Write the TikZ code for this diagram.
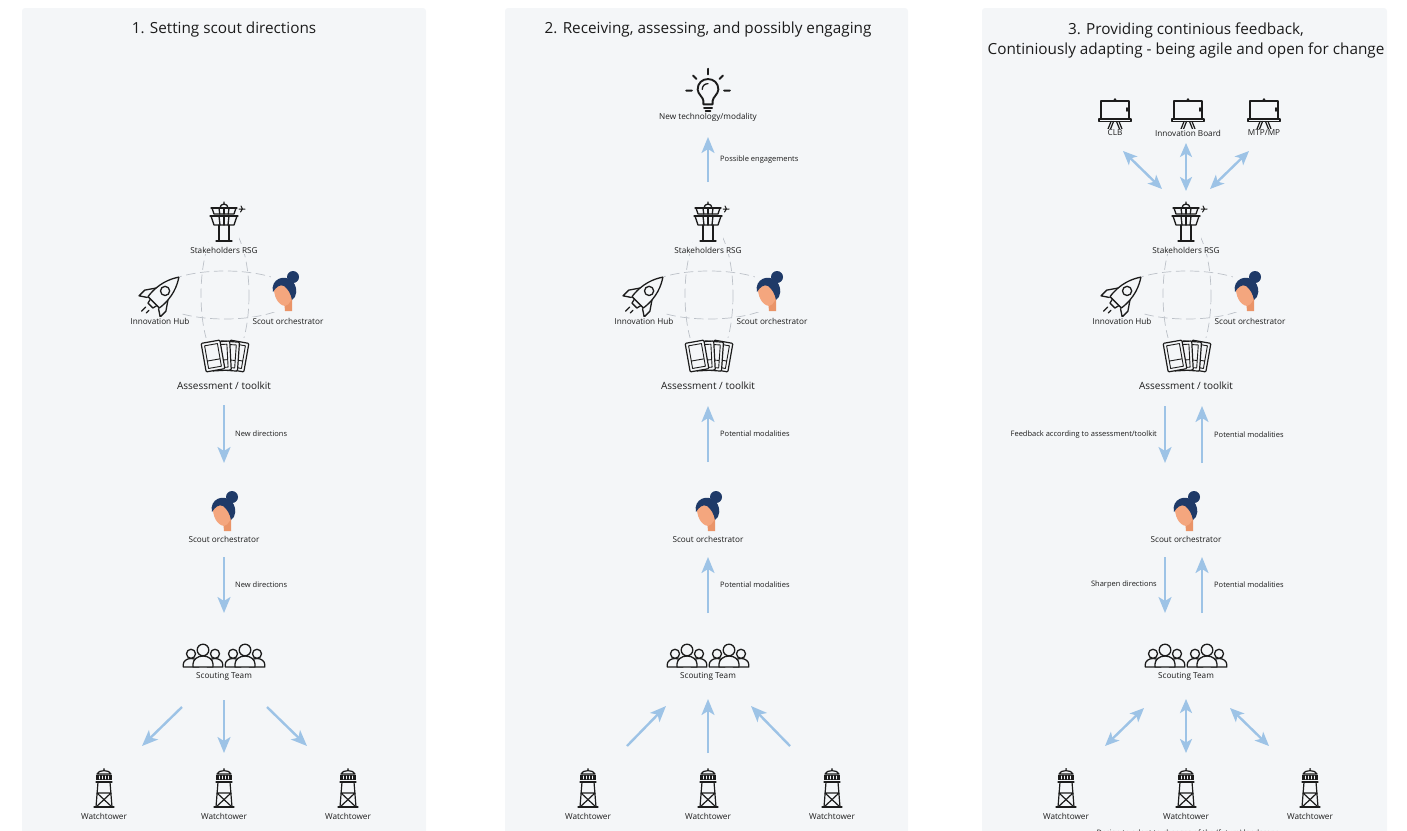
\documentclass[tikz,border=0pt]{standalone}
\usepackage{fontspec}
\setmainfont{Open Sans}
\usetikzlibrary{positioning, arrows.meta}

\definecolor{panelbg}{HTML}{F4F6F8}
\definecolor{flowblue}{HTML}{9DC3E6}
\definecolor{ink}{HTML}{1C1C1C}
\definecolor{hairblue}{HTML}{1F3A68}
\definecolor{skin}{HTML}{F4A67E}
\definecolor{skindark}{HTML}{EA9468}
\definecolor{dashgrey}{HTML}{BCC1C8}

\begin{document}
\begin{tikzpicture}[x=1pt, y=-1pt, line join=round, line cap=round,
    panel/.style={fill=panelbg, rounded corners=3pt},
    title/.style={font=\fontsize{15.3}{20}\selectfont, text=ink, align=center},
    lbl/.style={font=\fontsize{8.2}{10}\selectfont, text=ink, fill=panelbg, inner sep=1pt},
    biglbl/.style={font=\fontsize{10}{12}\selectfont, text=ink, fill=panelbg, inner sep=1pt},
    arrlbl/.style={font=\fontsize{7.5}{9}\selectfont, text=ink, inner sep=0pt},
    icon/.style={fill=panelbg, inner sep=0pt},
    flow/.style={draw=flowblue, line width=2.4pt, line cap=butt,
      -{Stealth[length=16pt, width=13pt, inset=4pt]}},
    both/.style={draw=flowblue, line width=2.4pt, line cap=butt,
      {Stealth[length=14pt, width=12pt, inset=3.5pt]}-{Stealth[length=14pt, width=12pt, inset=3.5pt]}},
    ring/.style={draw=dashgrey, line width=0.7pt, dash pattern=on 9pt off 5pt},
    % icons
    ctower/.pic={
      \begin{scope}[draw=ink, line width=1.3pt]
        \draw (-4,-15) arc[start angle=180, end angle=360, radius=4] (0,-19) -- (0,-21);
        \draw (-13,-15) -- (13,-15);
        \draw (-12,-15) -- (-10,-9) -- (10,-9) -- (12,-15);
        \foreach \u in {-5,0,5} \draw (\u,-15) -- (0.85*\u,-9);
        \draw (-14,-7) -- (14,-7);
        \draw (-13,-7) -- (-10,2) -- (10,2) -- (13,-7);
        \foreach \u in {-5,0,5} \draw (\u,-7) -- (0.8*\u,2);
        \draw (-5,2) -- (-5,18) (5,2) -- (5,18) (-8,18) -- (8,18);
        \draw[line width=1pt] (15,-14) -- (21,-14) (17,-17) -- (18.5,-14) -- (16.5,-11);
      \end{scope}
    },
    rocket/.pic={
      \begin{scope}[rotate=-45, scale=1.15, draw=ink, line width=1.3pt]
        \draw (-7,9) .. controls (-9,-6) and (-4,-16) .. (0,-22)
          .. controls (4,-16) and (9,-6) .. (7,9) -- cycle;
        \draw (0,-5) circle[radius=4];
        \draw (-7.5,-1) -- (-13,7) -- (-13,14) -- (-7,10);
        \draw (7.5,-1) -- (13,7) -- (13,14) -- (7,10);
        \draw (-4,9) -- (-3,13) -- (3,13) -- (4,9);
        \draw (-2,17) -- (-2,22) (2,17) -- (2,20);
      \end{scope}
    },
    woman/.pic={
      \fill[skindark] (-1,8) -- (0,19) -- (7,19) -- (7,5) -- cycle;
      \fill[skin] (-11,-7) .. controls (-12,4) and (-7,13) .. (0,14)
        .. controls (5,13) and (8,6) .. (8,-2) -- (2,-8) -- cycle;
      \fill[hairblue] (8,-15) circle[radius=6];
      \fill[hairblue] (-12,0) .. controls (-15,-13) and (0,-19) .. (8,-10)
        .. controls (13,-4) and (12,5) .. (7,8) .. controls (6,2) and (3,-3) .. (-1,-6)
        .. controls (-5,-8) and (-9,-5) .. (-12,0) -- cycle;
    },
    cards/.pic={
      \foreach \dx/\ang in {13/-10, 5/-4, -3/3, -11/10} {
        \begin{scope}[shift={(\dx,0)}, rotate=\ang]
          \filldraw[fill=panelbg, draw=ink, line width=1.2pt, rounded corners=1pt] (-9.5,-14.5) rectangle (9.5,14.5);
          \draw[draw=ink, line width=0.9pt] (-6.5,-11.5) rectangle (6.5,11.5) (-6.5,4) -- (6.5,4);
        \end{scope}
      }
    },
    person/.pic={
      \filldraw[fill=panelbg, draw=ink, line width=1.3pt]
        (-10,13) -- (-10,10) arc[start angle=180, end angle=360, x radius=10, y radius=8] -- (10,13) -- cycle;
      \filldraw[fill=panelbg, draw=ink, line width=1.3pt] (0,-4) circle[radius=5.8];
    },
    team/.pic={
      \foreach \gx in {-21,21} {
        \pic[scale=0.78] at (\gx-12,2.9) {person};
        \pic[scale=0.78] at (\gx+12,2.9) {person};
        \pic at (\gx,0) {person};
      }
    },
    wtower/.pic={
      \begin{scope}[draw=ink, line width=1.2pt]
        \draw (-7,-14) .. controls (-6,-18.5) and (6,-18.5) .. (7,-14) -- cycle;
        \fill[ink] (0,-19) circle[radius=1];
        \fill[ink] (-8,-13) rectangle (8,-8);
        \foreach \u in {-4.5,-1.5,1.5,4.5} \draw[draw=panelbg, line width=0.8pt] (\u,-12) -- (\u,-9);
        \draw (-8,-6) -- (8,-6);
        \draw (-6,-6) -- (-8,19) (6,-6) -- (8,19);
        \draw (-7,5) -- (7,5) (-7,5) -- (8,19) (7,5) -- (-8,19);
        \draw (-10,19) -- (10,19);
      \end{scope}
    },
    bulb/.pic={
      \begin{scope}[scale=1.15, draw=ink, line width=1.9pt]
        \draw (-4,9) -- (-4,6) .. controls (-4,3) and (-9,0) .. (-9,-4)
          .. controls (-9,-9.5) and (-5,-13) .. (0,-13) .. controls (5,-13) and (9,-9.5) .. (9,-4)
          .. controls (9,0) and (4,3) .. (4,6) -- (4,9) -- cycle;
        \draw (-3.5,12) -- (3.5,12) (-2,14.5) -- (2,14.5);
        \draw[line width=1.3pt] (-5,-4) .. controls (-5,-7) and (-3,-9) .. (0,-9);
        \draw (0,-17) -- (0,-22) (-14,-3) -- (-19,-3) (14,-3) -- (19,-3)
          (-10,-13) -- (-13,-16) (10,-13) -- (13,-16);
      \end{scope}
    },
    board/.pic={
      \begin{scope}[draw=ink, line width=1.2pt]
        \draw (-14,-11) rectangle (14,7);
        \fill[ink] (0,-12.5) circle[radius=1.3];
        \draw[line width=1.8pt] (12,-4) -- (12,-1);
        \filldraw[fill=panelbg] (-16,7) rectangle (16,9.5);
        \draw (-4,9.5) -- (-7,17) (-1.5,9.5) -- (-4.5,17)
          (4,9.5) -- (7,17) (1.5,9.5) -- (4.5,17);
      \end{scope}
    }]

  \useasboundingbox (0,0) rectangle (1407,830);
  \foreach \xa/\xb in {22/426, 505/908, 982/1387}
    \fill[panel] (\xa,8) rectangle (\xb,850);

  \node[title] (t1) at (224,30) {1. Setting scout directions};
  \node[title] (t2) at (708,30) {2. Receiving, assessing, and possibly engaging};
  \node[title] (t3) at (1186,40) {3. Providing continious feedback,\\Continiously adapting - being agile and open for change};

  % the same core group, chain and towers in every panel
  \foreach \p/\cx in {1/224, 2/708, 3/1186} {
    \draw[ring] (\cx+1,295) ellipse[x radius=24, y radius=70];
    \draw[ring] (\cx+1,295) ellipse[x radius=70, y radius=24];

    \node[icon, minimum width=30pt, minimum height=44pt] (rsg\p) at (\cx,223) {};
    \pic at (rsg\p) {ctower};
    \node[lbl] (rsgl\p) at (\cx,250) {Stakeholders RSG};

    \node[icon, minimum width=38pt, minimum height=38pt] (hub\p) at (\cx-63,295) {};
    \pic at (hub\p) {rocket};
    \node[lbl] (hubl\p) at (\cx-64,321) {Innovation Hub};

    \node[icon, minimum width=28pt, minimum height=40pt] (orc\p) at (\cx+61,292) {};
    \pic at (orc\p) {woman};
    \node[lbl] (orcl\p) at (\cx+64,321) {Scout orchestrator};

    \node[icon, minimum width=52pt, minimum height=36pt] (kit\p) at (\cx,356) {};
    \pic at (kit\p) {cards};
    \node[biglbl] (kitl\p) at (\cx,386) {Assessment / toolkit};

    \node[icon, minimum width=28pt, minimum height=40pt] (so\p) at (\cx,512) {};
    \pic at (so\p) {woman};
    \node[lbl] (sol\p) at (\cx,539) {Scout orchestrator};

    \node[icon, minimum width=90pt, minimum height=30pt] (team\p) at (\cx,654) {};
    \pic at (team\p) {team};
    \node[lbl] (teaml\p) at (\cx,676) {Scouting Team};

    \foreach \w/\dx in {a/-120, b/0, c/124} {
      \node[icon, minimum width=22pt, minimum height=42pt] (wt\p\w) at (\cx+\dx,788) {};
      \pic at (wt\p\w) {wtower};
      \node[lbl] (wtl\p\w) at (\cx+\dx,816) {Watchtower};
    }
  }

  % panel 1: directions go down
  \coordinate (d1a) at (224,405);
  \coordinate (d1b) at (224,463);
  \coordinate (d1c) at (224,557);
  \coordinate (d1d) at (224,613);
  \draw[flow] (d1a) -- node[arrlbl, right=10pt] {New directions} (d1b);
  \draw[flow] (d1c) -- node[arrlbl, right=10pt] {New directions} (d1d);
  \coordinate (f1a) at (182,707);
  \coordinate (f1b) at (142,746);
  \coordinate (f1c) at (224,700);
  \coordinate (f1d) at (224,753);
  \coordinate (f1e) at (267,707);
  \coordinate (f1f) at (307,746);
  \draw[flow] (f1a) -- (f1b);
  \draw[flow] (f1c) -- (f1d);
  \draw[flow] (f1e) -- (f1f);

  % panel 2: findings go up
  \node[icon, minimum width=46pt, minimum height=48pt] (tech) at (708,94) {};
  \pic at (tech) {bulb};
  \node[lbl] (techl) at (708,117) {New technology/modality};
  \coordinate (u2a) at (708,182);
  \coordinate (u2b) at (708,137);
  \coordinate (u2c) at (708,462);
  \coordinate (u2d) at (708,406);
  \coordinate (u2e) at (708,613);
  \coordinate (u2f) at (708,557);
  \draw[flow] (u2a) -- node[arrlbl, right=11pt] {Possible engagements} (u2b);
  \draw[flow] (u2c) -- node[arrlbl, right=11pt] {Potential modalities} (u2d);
  \draw[flow] (u2e) -- node[arrlbl, right=11pt] {Potential modalities} (u2f);
  \coordinate (f2a) at (627,746);
  \coordinate (f2b) at (666,706);
  \coordinate (f2c) at (708,753);
  \coordinate (f2d) at (708,699);
  \coordinate (f2e) at (790,746);
  \coordinate (f2f) at (751,706);
  \draw[flow] (f2a) -- (f2b);
  \draw[flow] (f2c) -- (f2d);
  \draw[flow] (f2e) -- (f2f);

  % panel 3: boards on top, feedback both ways
  \node[icon, minimum width=34pt, minimum height=32pt] (clb) at (1115,112) {};
  \pic at (clb) {board};
  \node[lbl] (clbl) at (1115,133) {CLB};
  \node[icon, minimum width=34pt, minimum height=32pt] (ib) at (1188,112) {};
  \pic at (ib) {board};
  \node[lbl] (ibl) at (1188,133) {Innovation Board};
  \node[icon, minimum width=34pt, minimum height=32pt] (mtp) at (1264,112) {};
  \pic at (mtp) {board};
  \node[lbl] (mtpl) at (1264,133) {MTP/MP};

  \coordinate (b3a) at (1123,151);
  \coordinate (b3b) at (1162,189);
  \coordinate (b3c) at (1186,143);
  \coordinate (b3d) at (1186,191);
  \coordinate (b3e) at (1249,151);
  \coordinate (b3f) at (1210,189);
  \draw[both] (b3a) -- (b3b);
  \draw[both] (b3c) -- (b3d);
  \draw[both] (b3e) -- (b3f);

  \coordinate (d3a) at (1165,406);
  \coordinate (d3b) at (1165,463);
  \coordinate (u3a) at (1202,463);
  \coordinate (u3b) at (1202,406);
  \draw[flow] (d3a) -- node[arrlbl, left=7pt] {Feedback according to assessment/toolkit} (d3b);
  \draw[flow] (u3a) -- node[arrlbl, right=11pt] {Potential modalities} (u3b);
  \coordinate (d3c) at (1165,557);
  \coordinate (d3d) at (1165,613);
  \coordinate (u3c) at (1202,613);
  \coordinate (u3d) at (1202,557);
  \draw[flow] (d3c) -- node[arrlbl, left=7pt] {Sharpen directions} (d3d);
  \draw[flow] (u3c) -- node[arrlbl, right=11pt] {Potential modalities} (u3d);

  \coordinate (f3a) at (1144,708);
  \coordinate (f3b) at (1105,746);
  \coordinate (f3c) at (1186,699);
  \coordinate (f3d) at (1186,753);
  \coordinate (f3e) at (1230,708);
  \coordinate (f3f) at (1269,746);
  \draw[both] (f3a) -- (f3b);
  \draw[both] (f3c) -- (f3d);
  \draw[both] (f3e) -- (f3f);

  \node[arrlbl] (note3) at (1188,834) {Design to adapt to changes of the (future) landscape};
\end{tikzpicture}
\end{document}
